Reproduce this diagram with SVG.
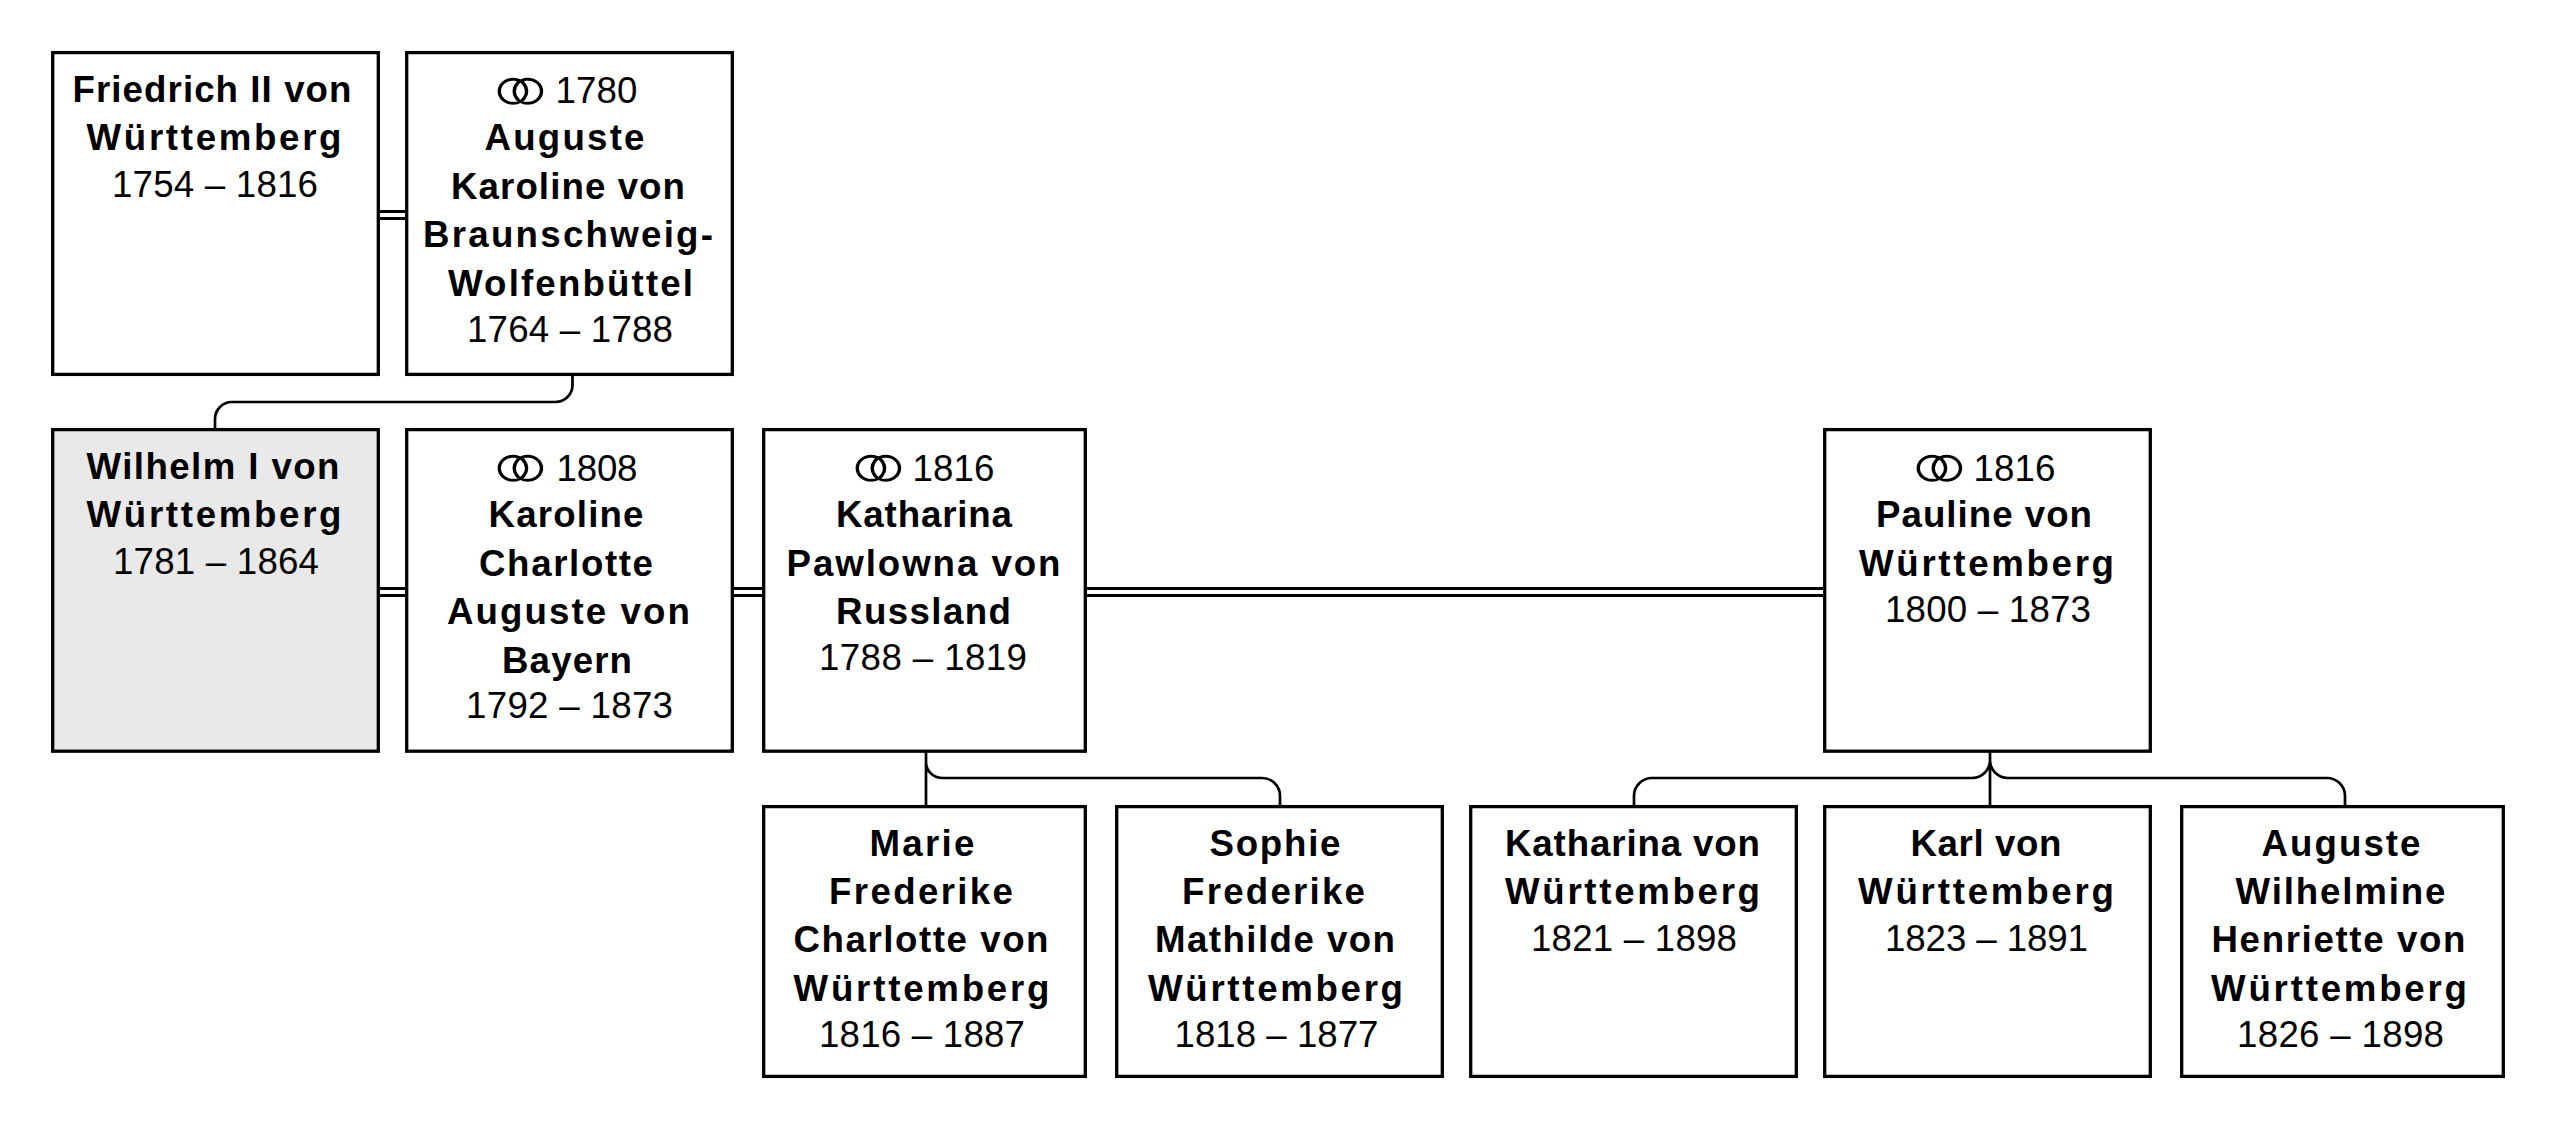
<svg xmlns="http://www.w3.org/2000/svg" width="2560" height="1136" viewBox="0 0 2560 1136">
<style>
text{font-family:"Liberation Sans",Arial,sans-serif;font-size:36.67px;fill:#000}
.b{font-weight:700}
.k{font-family:"DejaVu Sans",sans-serif;font-size:90px;stroke:#fff;stroke-width:3.6}
.box{fill:#fff;stroke:#000;stroke-width:3.3}
.me{fill:#e9e9e9}
.c{fill:none;stroke:#000;stroke-width:2.7}
.m{fill:none;stroke:#000;stroke-width:2.8}
</style>
<rect width="2560" height="1136" fill="#fff"/>
<g id="connectors">
<path class="m" d="M380 211.5H405M380 218.5H405M380 588.5H405M380 595.5H405M734 588.5H762M734 595.5H762M1087 588.5H1823M1087 595.5H1823"/>
<path class="c" d="M572.5 376V385A17 17 0 0 1 555.5 402H232A17 17 0 0 0 215 419V428"/>
<path class="c" d="M926 752V805M926 762A16 16 0 0 0 942 778H1262A18 18 0 0 1 1280 796V805"/>
<path class="c" d="M1990 752V805M1990 760A18 18 0 0 1 1972 778H1652A18 18 0 0 0 1634 796V805M1990 760A18 18 0 0 0 2008 778H2327A18 18 0 0 1 2345 796V805"/>
</g>
<g id="friedrich"><rect class="box" x="52.7" y="52.6" width="325.6" height="321.8"/>
<text class="b" x="72.5" y="102" textLength="279">Friedrich II von</text>
<text class="b" x="86.5" y="150" textLength="255">Württemberg</text>
<text x="112" y="197" textLength="206">1754 – 1816</text></g>
<g id="auguste-karoline"><rect class="box" x="406.7" y="52.6" width="325.6" height="321.8"/>
<text class="k" x="478" y="124" textLength="85" lengthAdjust="spacingAndGlyphs">⚭</text><text x="555.5" y="103" textLength="82">1780</text>
<text class="b" x="484.5" y="150" textLength="160">Auguste</text>
<text class="b" x="451" y="199" textLength="234">Karoline von</text>
<text class="b" x="423" y="247" textLength="290">Braunschweig-</text>
<text class="b" x="448" y="296" textLength="245">Wolfenbüttel</text>
<text x="467" y="342" textLength="206">1764 – 1788</text></g>
<g id="wilhelm"><rect class="box me" x="52.7" y="429.6" width="325.6" height="321.6"/>
<text class="b" x="86.5" y="479" textLength="253">Wilhelm I von</text>
<text class="b" x="86.5" y="527" textLength="255">Württemberg</text>
<text x="113" y="574" textLength="206">1781 – 1864</text></g>
<g id="karoline"><rect class="box" x="406.7" y="429.6" width="325.6" height="321.6"/>
<text class="k" x="478" y="501" textLength="85" lengthAdjust="spacingAndGlyphs">⚭</text><text x="556.5" y="481" textLength="81">1808</text>
<text class="b" x="488.5" y="527" textLength="155">Karoline</text>
<text class="b" x="479" y="576" textLength="174">Charlotte</text>
<text class="b" x="447" y="624" textLength="243">Auguste von</text>
<text class="b" x="502" y="673" textLength="130">Bayern</text>
<text x="466" y="718" textLength="207">1792 – 1873</text></g>
<g id="katharina-pawlowna"><rect class="box" x="763.7" y="429.6" width="321.6" height="321.6"/>
<text class="k" x="836" y="501" textLength="85" lengthAdjust="spacingAndGlyphs">⚭</text><text x="912.5" y="481" textLength="82">1816</text>
<text class="b" x="836" y="527" textLength="176">Katharina</text>
<text class="b" x="786.5" y="576" textLength="274">Pawlowna von</text>
<text class="b" x="836" y="624" textLength="175">Russland</text>
<text x="819" y="670" textLength="208">1788 – 1819</text></g>
<g id="pauline"><rect class="box" x="1824.7" y="429.6" width="325.6" height="321.6"/>
<text class="k" x="1897" y="501" textLength="85" lengthAdjust="spacingAndGlyphs">⚭</text><text x="1973.5" y="481" textLength="82">1816</text>
<text class="b" x="1876" y="527" textLength="216">Pauline von</text>
<text class="b" x="1859" y="576" textLength="255">Württemberg</text>
<text x="1885" y="622" textLength="206">1800 – 1873</text></g>
<g id="marie"><rect class="box" x="763.7" y="806.6" width="321.6" height="269.8"/>
<text class="b" x="869.5" y="856" textLength="105">Marie</text>
<text class="b" x="829" y="904" textLength="184">Frederike</text>
<text class="b" x="793.5" y="952" textLength="255">Charlotte von</text>
<text class="b" x="793.5" y="1001" textLength="256">Württemberg</text>
<text x="819" y="1047" textLength="206">1816 – 1887</text></g>
<g id="sophie"><rect class="box" x="1116.7" y="806.6" width="325.6" height="269.8"/>
<text class="b" x="1209.5" y="856" textLength="131">Sophie</text>
<text class="b" x="1182" y="904" textLength="183">Frederike</text>
<text class="b" x="1155" y="952" textLength="240">Mathilde von</text>
<text class="b" x="1148" y="1001" textLength="255">Württemberg</text>
<text x="1174.5" y="1047" textLength="204">1818 – 1877</text></g>
<g id="katharina"><rect class="box" x="1470.7" y="806.6" width="325.6" height="269.8"/>
<text class="b" x="1505" y="856" textLength="255">Katharina von</text>
<text class="b" x="1505" y="904" textLength="255">Württemberg</text>
<text x="1531" y="951" textLength="206">1821 – 1898</text></g>
<g id="karl"><rect class="box" x="1824.7" y="806.6" width="325.6" height="269.8"/>
<text class="b" x="1910.5" y="856" textLength="151">Karl von</text>
<text class="b" x="1858" y="904" textLength="256">Württemberg</text>
<text x="1885" y="951" textLength="203">1823 – 1891</text></g>
<g id="auguste-wilhelmine"><rect class="box" x="2181.7" y="806.6" width="321.6" height="269.8"/>
<text class="b" x="2261.5" y="856" textLength="159">Auguste</text>
<text class="b" x="2235.5" y="904" textLength="210">Wilhelmine</text>
<text class="b" x="2211.5" y="952" textLength="254">Henriette von</text>
<text class="b" x="2211" y="1001" textLength="256">Württemberg</text>
<text x="2237" y="1047" textLength="207">1826 – 1898</text></g>
</svg>
